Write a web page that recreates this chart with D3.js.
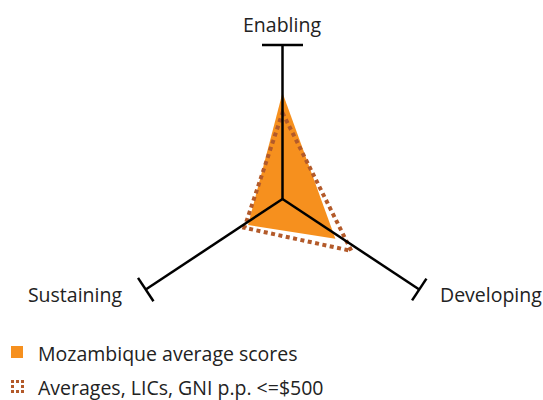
<html>
  <head>
    <title>Mozambique radar</title>
    <style>
      body { margin: 0; background: #fff; }
      text { font-family: "Open Sans", "Noto Sans", sans-serif; fill: #222; }
    </style>
  </head>
  <body>
    <script src="https://d3js.org/d3.v7.min.js"></script>
    <script>
      // axis names and values
      const axes = ["Enabling", "Developing", "Sustaining"];
      const mozambique = [0.69, 0.43, 0.28];
      const licAverage = [0.56, 0.56, 0.31];
      const legendLabels = ["Mozambique average scores", "Averages, LICs, GNI p.p. <=$500"];

      const width = 543;
      const height = 400;
      const cx = 282.5, cy = 199;

      const orange = "#f6901e";
      const brown = "#b35a2a";

      // drawn axis lines sit at these angles, the polygons a little lower
      const lineAngle = [-90, 33.5, 146.5];
      const lineLength = [154, 164, 164];
      const dataAngle = [-90, 37, 143];
      const capHalf = [20.5, 13, 14];

      const r = d3.scaleLinear().domain([0, 1]).range([0, 154]);
      const rad = a => a * Math.PI / 180;

      const svg = d3.select("body").append("svg")
          .attr("width", width)
          .attr("height", height);

      function point(v, i) {
        const a = rad(dataAngle[i]);
        return [cx + r(v) * Math.cos(a), cy + r(v) * Math.sin(a)];
      }

      const line = d3.line().curve(d3.curveLinearClosed);

      // Mozambique area
      svg.append("path")
        .attr("d", line(mozambique.map(point)))
        .attr("fill", orange);

      // LIC averages dotted outline
      svg.append("path")
        .attr("d", line(licAverage.map(point)))
        .attr("fill", "none")
        .attr("stroke", brown)
        .attr("stroke-width", 4)
        .attr("stroke-dasharray", "4,3.5");

      // axis lines with caps at the ends
      const axisG = svg.append("g")
        .attr("stroke", "#000")
        .attr("stroke-width", 2.5);

      axes.forEach((name, i) => {
        const a = rad(lineAngle[i]);
        const ex = cx + lineLength[i] * Math.cos(a);
        const ey = cy + lineLength[i] * Math.sin(a);
        axisG.append("line")
          .attr("x1", cx).attr("y1", cy)
          .attr("x2", ex).attr("y2", ey);
        const px = -Math.sin(a) * capHalf[i];
        const py = Math.cos(a) * capHalf[i];
        axisG.append("line")
          .attr("x1", ex - px).attr("y1", ey - py)
          .attr("x2", ex + px).attr("y2", ey + py);
      });

      // axis labels
      const labelPos = [
        {x: 282, y: 32, anchor: "middle"},
        {x: 440, y: 302, anchor: "start"},
        {x: 122, y: 302, anchor: "end"}
      ];
      svg.selectAll("text.axis-label")
        .data(axes)
        .enter()
          .append("text")
          .attr("class", "axis-label")
          .attr("x", (d, i) => labelPos[i].x)
          .attr("y", (d, i) => labelPos[i].y)
          .attr("text-anchor", (d, i) => labelPos[i].anchor)
          .attr("font-size", 19.5)
          .text(d => d);

      // legend
      const legend = svg.append("g").attr("transform", "translate(11,346)");
      legend.append("rect")
        .attr("x", 0).attr("y", 0)
        .attr("width", 12).attr("height", 12)
        .attr("fill", orange);
      legend.append("rect")
        .attr("x", 1.5).attr("y", 35.5)
        .attr("width", 10).attr("height", 10)
        .attr("fill", "none")
        .attr("stroke", brown)
        .attr("stroke-width", 3)
        .attr("stroke-dasharray", "3,2")
        .attr("stroke-dashoffset", 1.5);
      legend.selectAll("text")
        .data(legendLabels)
        .enter()
          .append("text")
          .attr("x", 27)
          .attr("y", (d, i) => 15 + i * 34)
          .attr("font-size", 19.5)
          .text(d => d);
    </script>
  </body>
</html>
